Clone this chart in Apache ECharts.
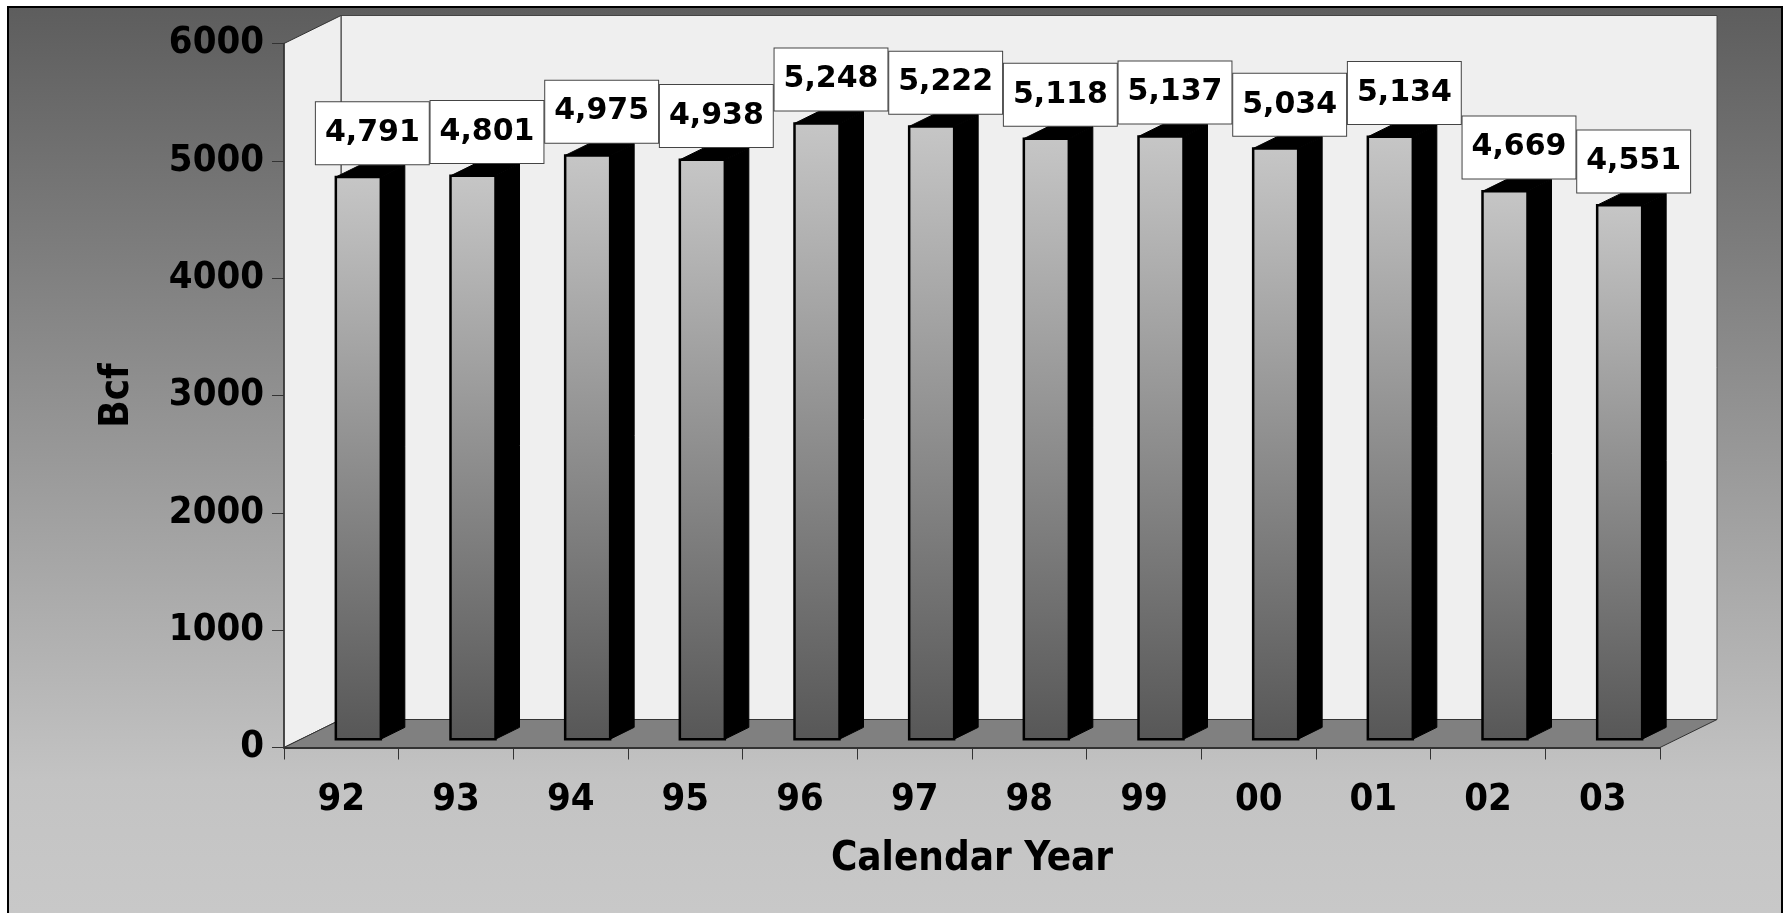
<!DOCTYPE html>
<html>
<head>
<meta charset="utf-8">
<script src="https://cdn.jsdelivr.net/npm/echarts@6/dist/echarts.min.js"></script>
<style>
html,body{margin:0;padding:0;background:#fff;}
#chart{width:1788px;height:913px;}
</style>
</head>
<body>
<div id="chart"></div>
<script>
// ---- data ----
const categories = ['92','93','94','95','96','97','98','99','00','01','02','03'];
const values = [4791, 4801, 4975, 4938, 5248, 5222, 5118, 5137, 5034, 5134, 4669, 4551];
const yMin = 0, yMax = 6000, yStep = 1000;
const xTitle = 'Calendar Year';
const yTitle = 'Bcf';

// ---- 3D look (pixels) ----
const DX = 57, DY = -28;          // wall depth
const SLOPE = DY / DX;
const BAR_D0 = 17;                // depth of bar front face
const BAR_DEPTH = 24;             // bar depth along x
const BAR_W = 45;                 // bar front face width
const FONT = "'DejaVu Sans Condensed','DejaVu Sans',sans-serif";
const FONT_LBL = "'DejaVu Sans',Verdana,sans-serif";

const chart = echarts.init(document.getElementById('chart'), null, {renderer: 'canvas'});

function fmt(v) {
  return String(v).replace(/\B(?=(\d{3})+(?!\d))/g, ',');
}

const barGrad = new echarts.graphic.LinearGradient(0, 0, 0, 1, [
  {offset: 0, color: '#c6c6c6'},
  {offset: 1, color: '#575757'}
]);

const option = {
  backgroundColor: '#ffffff',
  animation: false,
  graphic: [{
    type: 'rect',
    z: -100,
    silent: true,
    shape: {x: 8, y: 7, width: 1774, height: 930},
    style: {
      fill: new echarts.graphic.LinearGradient(0, 0, 0, 1, [
        {offset: 0, color: '#5d5d5d'},
        {offset: 0.83, color: '#c3c3c3'},
        {offset: 1, color: '#c9c9c9'}
      ]),
      stroke: '#000',
      lineWidth: 2
    }
  }],
  grid: {left: 284, right: 128, top: 43.5, bottom: 165.5, containLabel: false},
  xAxis: {
    type: 'category',
    data: categories,
    z: 5,
    boundaryGap: true,
    name: xTitle,
    nameLocation: 'middle',
    nameGap: 112,
    nameTextStyle: {
      fontFamily: FONT, fontWeight: 'bold', fontSize: 40, color: '#000',
      verticalAlign: 'middle', align: 'center'
    },
    axisLine: {show: true, lineStyle: {color: '#333', width: 2}},
    axisTick: {show: true, length: 12, inside: false, alignWithLabel: false, lineStyle: {color: '#333', width: 1}},
    axisLabel: {
      margin: 34, color: '#000', fontFamily: FONT, fontWeight: 'bold', fontSize: 38,
      interval: 0
    },
    splitLine: {show: false}
  },
  yAxis: {
    type: 'value',
    min: yMin, max: yMax, interval: yStep,
    z: 5,
    name: yTitle,
    nameLocation: 'middle',
    nameGap: 166,
    nameRotate: 90,
    nameTextStyle: {
      fontFamily: FONT, fontWeight: 'bold', fontSize: 40, color: '#000',
      verticalAlign: 'middle', align: 'center'
    },
    axisLine: {show: true, lineStyle: {color: '#333', width: 1.5}},
    axisTick: {show: true, length: 12, inside: false, lineStyle: {color: '#333', width: 1}},
    axisLabel: {
      margin: 20, color: '#000', fontFamily: FONT, fontWeight: 'bold', fontSize: 38,
      formatter: function (v) { return String(v); }
    },
    splitLine: {show: false}
  },
  series: [
    {
      // walls and floor
      type: 'custom',
      z: 1,
      silent: true,
      data: [[0, 0]],
      renderItem: function (params, api) {
        const cs = params.coordSys;
        const x0 = cs.x, x1 = cs.x + cs.width, yT = cs.y, yB = cs.y + cs.height;
        return {
          type: 'group',
          children: [
            {type: 'rect', shape: {x: x0 + DX, y: yT + DY, width: cs.width, height: cs.height},
              style: {fill: '#efefef', stroke: '#444', lineWidth: 1}},
            {type: 'polygon', shape: {points: [[x0, yB], [x0, yT], [x0 + DX, yT + DY], [x0 + DX, yB + DY]]},
              style: {fill: '#efefef', stroke: '#333', lineWidth: 1}},
            {type: 'polygon', shape: {points: [[x0, yB], [x1, yB], [x1 + DX, yB + DY], [x0 + DX, yB + DY]]},
              style: {fill: '#808080', stroke: '#333', lineWidth: 1}}
          ]
        };
      }
    },
    {
      // 3D bars
      type: 'custom',
      z: 3,
      data: values.map((v, i) => [i, v]),
      renderItem: function (params, api) {
        const i = api.value(0), v = api.value(1);
        const p = api.coord([i, v]);
        const b = api.coord([i, 0]);
        const ox = BAR_D0, oy = BAR_D0 * SLOPE;
        const cx = p[0] + ox;
        const yt = p[1] + oy, yb = b[1] + oy;
        const xl = cx - BAR_W / 2, xr = cx + BAR_W / 2;
        const dx = BAR_DEPTH, dy = BAR_DEPTH * SLOPE;
        return {
          type: 'group',
          children: [
            {type: 'polygon', shape: {points: [[xr, yt], [xr + dx, yt + dy], [xr + dx, yb + dy], [xr, yb]]},
              style: {fill: '#000', stroke: '#000', lineWidth: 1}},
            {type: 'polygon', shape: {points: [[xl, yt], [xl + dx, yt + dy], [xr + dx, yt + dy], [xr, yt]]},
              style: {fill: '#000', stroke: '#000', lineWidth: 1}},
            {type: 'rect', shape: {x: xl, y: yt, width: BAR_W, height: yb - yt},
              style: {fill: barGrad, stroke: '#000', lineWidth: 2.5}}
          ]
        };
      }
    },
    {
      // value labels in boxes
      type: 'custom',
      z: 10,
      data: values.map((v, i) => [i, v]),
      renderItem: function (params, api) {
        const i = api.value(0), v = api.value(1);
        const p = api.coord([i, v]);
        const yTopBack = p[1] + BAR_D0 * SLOPE + BAR_DEPTH * SLOPE;
        return {
          type: 'text',
          x: p[0] + 31,
          y: yTopBack - 1,
          style: {
            text: fmt(v),
            align: 'center',
            verticalAlign: 'bottom',
            fontFamily: FONT_LBL,
            fontWeight: 'bold',
            fontSize: 30,
            lineHeight: 34,
            fill: '#000',
            backgroundColor: '#ffffff',
            borderColor: '#444',
            borderWidth: 1,
            padding: [14, 9, 14, 9]
          }
        };
      }
    }
  ]
};

chart.setOption(option);
</script>
</body>
</html>
